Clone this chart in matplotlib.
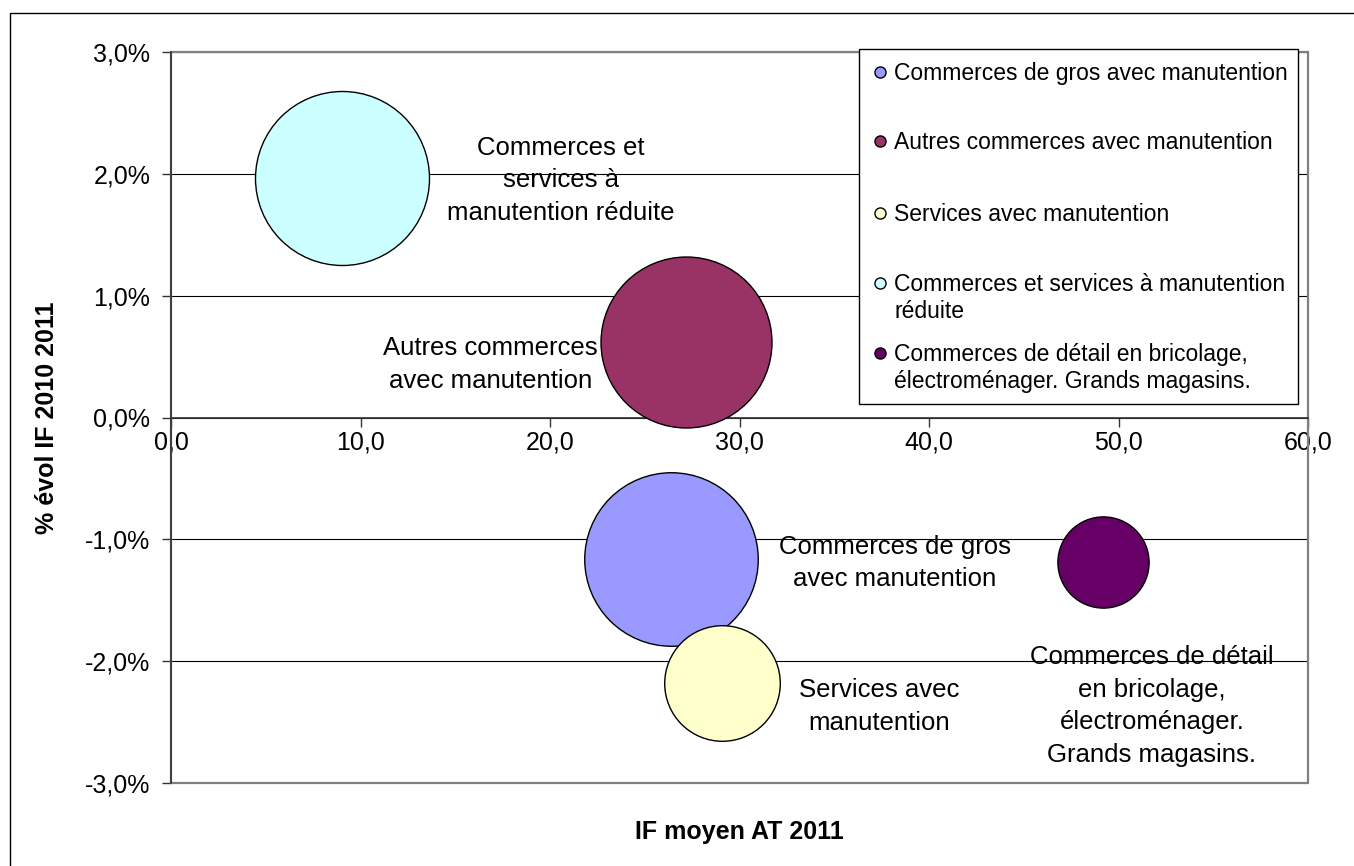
import numpy as np
import matplotlib
matplotlib.use("Agg")
import matplotlib.pyplot as plt
from matplotlib.lines import Line2D
from matplotlib.patches import Rectangle
from matplotlib.ticker import FuncFormatter, MultipleLocator

plt.rcParams['font.family'] = ['Liberation Sans', 'DejaVu Sans']

# series (legend order)
series = ["Commerces de gros avec manutention",
          "Autres commerces avec manutention",
          "Services avec manutention",
          "Commerces et services à manutention réduite",
          "Commerces de détail en bricolage, électroménager. Grands magasins."]
legend_labels = ["Commerces de gros avec manutention",
                 "Autres commerces avec manutention",
                 "Services avec manutention",
                 "Commerces et services à manutention\nréduite",
                 "Commerces de détail en bricolage,\nélectroménager. Grands magasins."]
point_labels = ["Commerces de gros\navec manutention",
                "Autres commerces\navec manutention",
                "Services avec\nmanutention",
                "Commerces et\nservices à\nmanutention réduite",
                "Commerces de détail\nen bricolage,\nélectroménager.\nGrands magasins."]
if_moyen = [26.4, 27.2, 29.1, 9.0, 49.2]          # IF moyen AT 2011
evol_if = [-1.16, 0.62, -2.18, 1.97, -1.19]        # % évol IF 2010 2011
taille = [7530, 7310, 3340, 7570, 2080]            # bubble size

colors = ['#9999FF', '#993366', '#FFFFCC', '#CCFFFF', '#660066']
# label offsets (points) from bubble centre
label_offsets = [(161, -3), (-141, -16), (113, -17), (158, -2), (35, -103.5)]

fig = plt.figure(figsize=(13.54, 8.66), dpi=100)
W, H = 1354, 866
ax = fig.add_axes([171 / W, 1 - 782.7 / H, (1308 - 171) / W, (782.7 - 52.3) / H])

smax = (2 * 87 * 72 / 100) ** 2
sizes = np.array(taille) / max(taille) * smax
for i in range(len(series)):
    ax.scatter(if_moyen[i], evol_if[i], s=sizes[i], color=colors[i],
               edgecolor='black', linewidth=1.0, zorder=3)
    ax.annotate(point_labels[i], (if_moyen[i], evol_if[i]),
                xytext=label_offsets[i], textcoords='offset points',
                ha='center', va='center', fontsize=18.5, linespacing=1.45,
                zorder=4)

ax.set_xlim(0, 60)
ax.set_ylim(-3, 3)
ax.xaxis.set_major_locator(MultipleLocator(10))
ax.yaxis.set_major_locator(MultipleLocator(1))
ax.xaxis.set_major_formatter(FuncFormatter(lambda v, p: f"{v:.1f}".replace('.', ',')))
ax.yaxis.set_major_formatter(FuncFormatter(lambda v, p: f"{v:.1f}%".replace('.', ',')))

ax.set_axisbelow(True)
ax.yaxis.grid(True, color='black', linewidth=0.8)
ax.add_patch(Rectangle((0, 0), 1, 1, transform=ax.transAxes, fill=False,
                       edgecolor='#808080', linewidth=1.6, zorder=2.4, clip_on=False))

ax.spines['top'].set_visible(False)
ax.spines['right'].set_visible(False)
ax.spines['bottom'].set_position(('data', 0))
ax.spines['bottom'].set_color('#333333')
ax.spines['left'].set_color('#333333')
ax.spines['bottom'].set_linewidth(1.2)
ax.spines['left'].set_linewidth(1.2)
ax.tick_params(axis='both', direction='out', length=6.5, width=1, color='#333333',
               labelsize=18)
ax.tick_params(axis='y', pad=8.5)
ax.tick_params(axis='x', pad=3)

ax.set_xlabel("IF moyen AT 2011", fontsize=18, fontweight='bold')
ax.xaxis.set_label_coords(0.5, -0.067)
ax.xaxis.label.set_va('center')
ax.set_ylabel("% évol IF 2010 2011", fontsize=18, fontweight='bold')
ax.yaxis.set_label_coords(-0.109, 0.5)
ax.yaxis.label.set_va('center')

# legend box, drawn by hand so each entry sits where Excel put it
leg_box = (859, 49, 1298, 404)
leg_rows = [72, 141, 213, 283, 353]
fig.add_artist(Rectangle((leg_box[0] / W, 1 - leg_box[3] / H),
                         (leg_box[2] - leg_box[0]) / W, (leg_box[3] - leg_box[1]) / H,
                         transform=fig.transFigure, facecolor='white',
                         edgecolor='black', linewidth=1.0, zorder=5))
for c, lab, yr in zip(colors, legend_labels, leg_rows):
    fig.add_artist(Line2D([880 / W], [1 - yr / H], transform=fig.transFigure,
                          marker='o', linestyle='none', markersize=8,
                          markerfacecolor=c, markeredgecolor='black',
                          markeredgewidth=1, zorder=6))
    fig.text(894 / W, 1 - (yr - 10) / H, lab, ha='left', va='top',
             fontsize=16.5, linespacing=1.2, zorder=6)

# outer chart border (top and left visible)
fig.add_artist(Rectangle((10 / W, -0.05), 1.1, (1 - 13 / H) + 0.05,
                         transform=fig.transFigure, fill=False,
                         edgecolor='black', linewidth=1.0))

fig.savefig("out.png", dpi=100)
